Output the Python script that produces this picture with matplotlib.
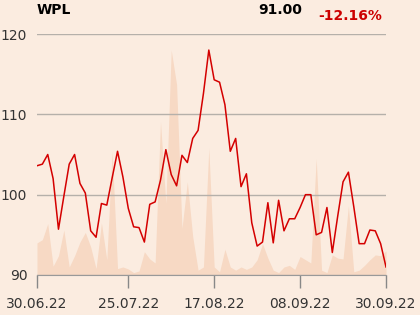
import matplotlib
matplotlib.use("Agg")
import matplotlib.pyplot as plt
import numpy as np

# closing prices, one per trading day 30.06.22 - 30.09.22
price = [
    103.6, 103.8, 105.0, 102.0, 95.7, 99.8, 103.8, 105.0, 101.4, 100.2,
    95.5, 94.7, 98.9, 98.7, 102.1, 105.4, 102.2, 98.3, 96.0, 95.9,
    94.1, 98.8, 99.1, 101.8, 105.6, 102.5, 101.1, 104.9, 104.0, 107.0,
    108.0, 112.6, 118.0, 114.3, 114.0, 111.2, 105.4, 107.0, 101.0, 102.6,
    96.5, 93.6, 94.1, 99.0, 94.0, 99.3, 95.5, 97.0, 97.0, 98.4,
    100.0, 100.0, 95.0, 95.3, 98.4, 92.8, 97.3, 101.6, 102.8, 98.5,
    93.9, 93.9, 95.6, 95.5, 93.9, 91.0,
]
# volume, drawn as height above the 90 baseline
volume = [
    4.0, 4.4, 6.4, 1.1, 2.4, 5.6, 1.0, 2.4, 4.1, 5.3,
    3.5, 0.8, 6.5, 1.9, 15.4, 0.8, 1.0, 0.75, 0.3, 0.5,
    2.9, 2.0, 1.5, 19.1, 8.9, 28.0, 23.7, 5.8, 11.6, 4.8,
    0.6, 1.0, 15.8, 1.0, 0.4, 3.2, 1.0, 0.6, 1.0, 0.7,
    1.0, 1.9, 3.9, 2.1, 0.6, 0.3, 1.0, 1.2, 0.7, 2.3,
    1.9, 1.5, 14.5, 0.6, 0.3, 2.5, 2.1, 2.0, 8.6, 0.4,
    0.6, 1.2, 1.9, 2.5, 2.4, 3.0,
]
tick_pos = [0, 17, 33, 49, 65]
tick_labels = ["30.06.22", "25.07.22", "17.08.22", "08.09.22", "30.09.22"]
y_ticks = [90, 100, 110, 120]

bg = "#fbece0"
x = np.arange(len(price))

fig = plt.figure(figsize=(4.2, 3.15), dpi=100, facecolor=bg)
ax = fig.add_axes([37 / 420, 40 / 315, 349 / 420, 241 / 315], facecolor=bg)

ax.fill_between(x, 90, 90 + np.array(volume), color="#f7d9c4", lw=0, zorder=1)
ax.plot(x, price, color="#d40000", lw=1.1, zorder=3)

ax.set_xlim(0, len(price) - 1)
ax.set_ylim(90, 120)
ax.set_yticks(y_ticks)
ax.set_xticks(tick_pos)
ax.set_xticklabels(tick_labels)
ax.grid(axis="y", color="#b5b0aa", lw=1, zorder=2)
ax.tick_params(axis="y", length=0, pad=7, labelsize=10, labelcolor="#333333")
ax.tick_params(axis="x", length=9, width=1, color="#888888", pad=7,
               labelsize=10, labelcolor="#333333")
for s in ["top", "right", "left"]:
    ax.spines[s].set_visible(False)
ax.spines["bottom"].set_color("#999999")
ax.spines["bottom"].set_zorder(4)

fig.text(37 / 420, 1 - 10 / 315, "WPL", fontsize=10, fontweight="bold", va="center")
fig.text(302 / 420, 1 - 10 / 315, "91.00", fontsize=10, fontweight="bold",
         va="center", ha="right")
fig.text(382 / 420, 1 - 16 / 315, "-12.16%", fontsize=10, fontweight="bold",
         va="center", ha="right", color="#cc0000")

fig.savefig("out.png", dpi=100, facecolor=bg)
